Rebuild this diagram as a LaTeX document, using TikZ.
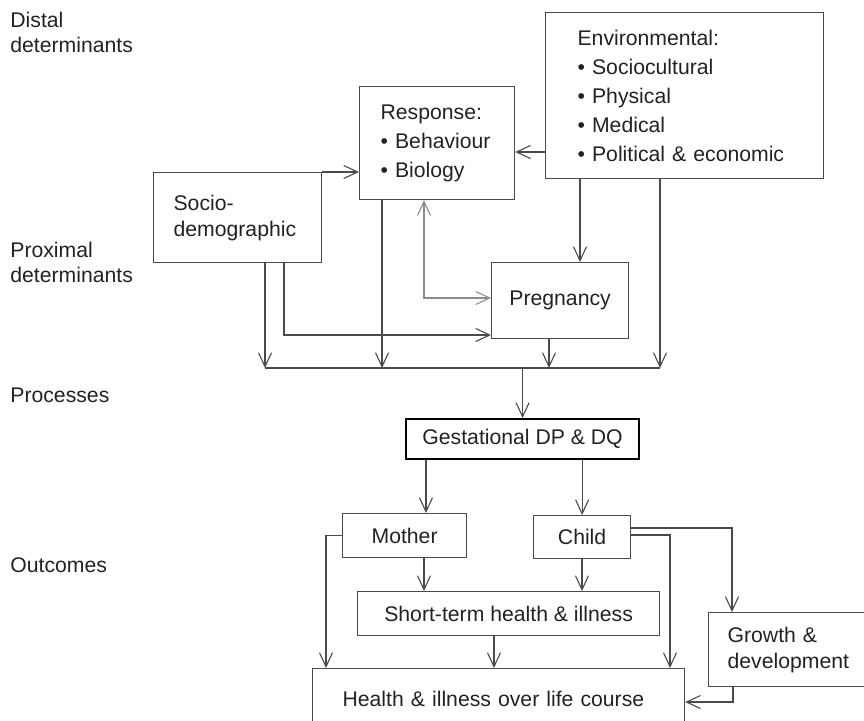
\documentclass[tikz,border=0pt]{standalone}
\usepackage{fontspec}
\setmainfont{Liberation Sans}
\usetikzlibrary{arrows.meta,calc}
\definecolor{linec}{HTML}{4A4A4A}
\definecolor{txtc}{HTML}{222222}
\definecolor{lightc}{HTML}{8C8C8C}
\begin{document}
\begin{tikzpicture}[x=0.5pt,y=-0.5pt,
  every node/.style={text=txtc, font=\fontsize{10.6}{14.5}\selectfont},
  box/.style={draw=linec, line width=0.6pt, rectangle, anchor=north west, inner sep=0pt},
  listbox/.style={box, align=left},
  lbl/.style={anchor=west, align=left, inner sep=0pt, font=\fontsize{10.6}{12.5}\selectfont},
  arr/.style={draw=linec, line width=0.55pt, -{Straight Barb[length=7pt,width=6.5pt]}},
  line/.style={draw=linec, line width=0.55pt}
]
\useasboundingbox (0,0) rectangle (864,720);

% left labels
\node[lbl] (ldist) at (10,32) {Distal\\determinants};
\node[lbl] (lprox) at (10,262) {Proximal\\determinants};
\node[lbl] (lproc) at (10,395) {Processes};
\node[lbl] (lout) at (10,565) {Outcomes};

% boxes
\node[listbox, minimum width=139pt, minimum height=83pt, inner xsep=16pt, text width=107pt] (env) at (545,12)
  {Environmental:\\\textbullet\ Sociocultural\\\textbullet\ Physical\\\textbullet\ Medical\\\textbullet\ Political \& economic};
\node[listbox, minimum width=77.5pt, minimum height=56.5pt, inner xsep=10.5pt, text width=56.5pt] (resp) at (359,86)
  {Response:\\\textbullet\ Behaviour\\\textbullet\ Biology};
\node[box, align=left, minimum width=84pt, minimum height=45pt, inner xsep=10pt, text width=64pt,
  font=\fontsize{10.6}{13}\selectfont] (soc) at (153,172) {Socio-\\demographic};
\node[box, minimum width=68.5pt, minimum height=38pt] (preg) at (491,262) {Pregnancy};
\node[box, draw=black, line width=1.1pt, minimum width=116.5pt, minimum height=20pt] (gest) at (405,418) {Gestational DP \& DQ};
\node[box, minimum width=62pt, minimum height=22pt] (moth) at (342,513) {Mother};
\node[box, minimum width=48.5pt, minimum height=21.5pt] (child) at (533,515) {Child};
\node[box, minimum width=151pt, minimum height=22pt] (short) at (357,591) {Short-term health \& illness};
\node[box, align=left, minimum width=86pt, minimum height=37pt, inner xsep=9.5pt, text width=67pt,
  font=\fontsize{10.6}{13}\selectfont] (grow) at (708,612) {Growth \&\\development};
\node[box, align=left, minimum width=186pt, minimum height=30pt, inner xsep=15pt, text width=156pt] (health) at (312,668)
  {Health \& illness over life course};

% helper coordinates
\coordinate (busL) at (265,368);
\coordinate (busR) at (660,368);
\coordinate (xResp) at (382,0);
\coordinate (xSoc2) at (284,0);
\coordinate (xPreg) at (549,0);
\coordinate (xEnvA) at (580,0);
\coordinate (xGrey) at (424,298);
\coordinate (ySoc2) at (0,335);
\coordinate (yEnvR) at (0,152);
\coordinate (xGM) at (426,0);
\coordinate (xMS) at (424,0);
\coordinate (xCS) at (582,0);
\coordinate (xSH) at (494,0);
\coordinate (mL) at (326,0);
\coordinate (cG) at (732,528);
\coordinate (cH) at (670,535);
\coordinate (gH) at (733,702);

% distal connectors
\draw[arr] (soc.north east) -- (soc.north east -| resp.west);
\draw[arr] (env.west |- yEnvR) -- (resp.east |- yEnvR);
\draw[arr] (env.south -| xEnvA) -- (preg.north -| xEnvA);
\draw[draw=lightc, line width=0.55pt, {Straight Barb[length=7pt,width=6.5pt]}-{Straight Barb[length=7pt,width=6.5pt]}]
  (resp.south -| xGrey) -- (xGrey) -- (preg.west |- xGrey);

% to the bus
\draw[arr] (soc.south -| busL) -- (busL);
\draw[arr] (resp.south -| xResp) -- (busL -| xResp);
\draw[arr] (preg.south -| xPreg) -- (busL -| xPreg);
\draw[arr] (env.south -| busR) -- (busR);
\draw[arr] (soc.south -| xSoc2) -- (xSoc2 |- ySoc2) -- (preg.west |- ySoc2);
\draw[line] (busL) -- (busR);
\draw[arr] (busL -| gest.north) -- (gest.north);

% outcomes
\draw[arr] (gest.south -| xGM) -- (moth.north -| xGM);
\draw[arr] (gest.south -| child.north) -- (child.north);
\draw[arr] (moth.south -| xMS) -- (short.north -| xMS);
\draw[arr] (child.south -| xCS) -- (short.north -| xCS);
\draw[arr] (short.south -| xSH) -- (health.north -| xSH);
\draw[arr] (moth.west) -- (moth.west -| mL) -- (health.north -| mL);
\draw[arr] (child.east |- cG) -- (cG) -- (grow.north -| cG);
\draw[arr] (child.east |- cH) -- (cH) -- (health.north -| cH);
\draw[arr] (grow.south -| gH) -- (gH) -- (health.east |- gH);
\end{tikzpicture}
\end{document}
